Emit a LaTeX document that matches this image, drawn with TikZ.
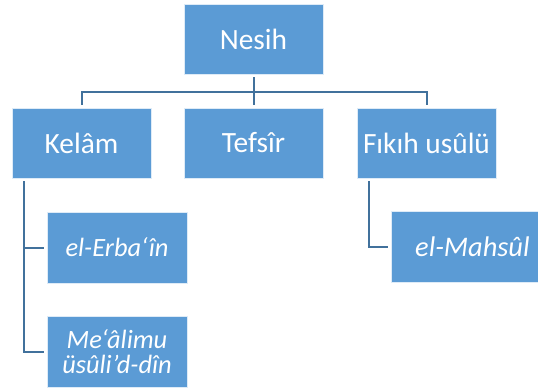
\documentclass[tikz,border=0pt]{standalone}
\usepackage{fontspec}
\setmainfont{Carlito}
\usepackage{tikz}
\usetikzlibrary{positioning}

\definecolor{boxblue}{HTML}{5B9BD5}
\definecolor{linkblue}{HTML}{41719C}

\begin{document}
\begin{tikzpicture}[
  x=1bp,y=-1bp,
  box/.style={rectangle,fill=boxblue,draw=white!80!boxblue,line width=0.4bp,
    text=white,minimum width=139bp,minimum height=70bp,inner sep=1bp,
    align=center,font=\fontsize{29.5}{31}\selectfont},
  work/.style={box,minimum width=140bp,minimum height=71bp,
    font=\fontsize{26.5}{29}\itshape\selectfont},
  link/.style={draw=linkblue,line width=2bp,shorten <=3bp,shorten >=3bp}
]
  \useasboundingbox[clip] (0,0) rectangle (538,389);
  \node[box] (nesih) at (253.5,39) {Nesih};
  \node[box] (kelam) at (81.5,143) {Kelâm};
  \node[box] (tefsir) at (253.5,143) {Tefsîr};
  \node[box] (fikih) at (426.5,143) {Fıkıh usûlü};
  \node[work] (erbain) at (117,247.5) {el-Erba‘în};
  \node[work] (mealim) at (117,351.5) {Me‘âlimu\\[-4bp]üsûli'd-dîn};
  \node[work,anchor=west,minimum width=180bp,text width=150bp,align=left,
    inner xsep=24bp,font=\fontsize{28.5}{30}\itshape\selectfont]
    (mahsul) at (391,247) {el-Mahsûl};
  % first level
  \draw[link] (nesih.south) -- ++(0,18) -| (kelam.north);
  \draw[link] (nesih.south) -- (tefsir.north);
  \draw[link] (nesih.south) -- ++(0,18) -| (fikih.north);
  % works
  \draw[link] ([xshift=12bp]kelam.south west) |- (erbain.west);
  \draw[link] ([xshift=12bp]kelam.south west) |- (mealim.west);
  \draw[link] ([xshift=12bp]fikih.south west) |- (mahsul.west);
\end{tikzpicture}
\end{document}
